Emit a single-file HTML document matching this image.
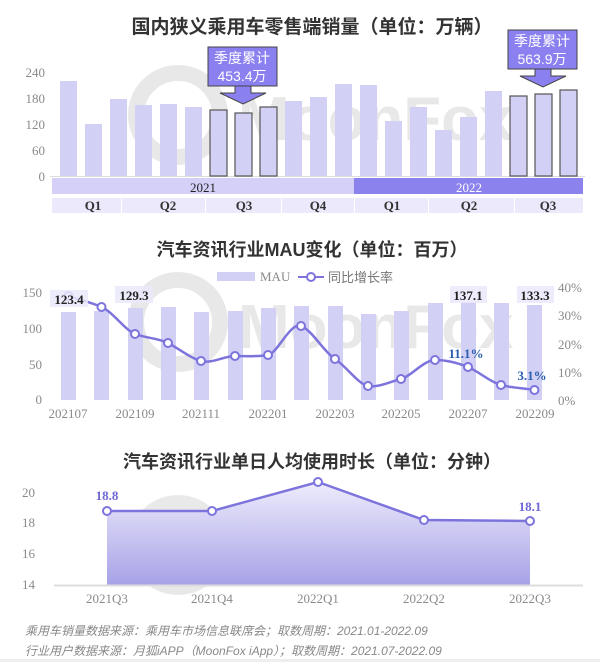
<!DOCTYPE html>
<html><head><meta charset="utf-8"><style>
html,body{margin:0;padding:0;background:#fff;}
svg{display:block;}
.t{font-family:"Liberation Sans","Noto Sans CJK SC",sans-serif;font-weight:bold;fill:#333;}
.ax{font-family:"Liberation Serif","Noto Serif CJK SC",serif;fill:#8a8a8a;font-size:13px;}
.bx{font-family:"Liberation Serif","Noto Serif CJK SC",serif;font-size:13px;}
</style></head><body>
<svg width="600" height="662" viewBox="0 0 600 662" xmlns="http://www.w3.org/2000/svg">
<g opacity="0.13" fill="#555">
<circle cx="178" cy="115" r="42" fill="none" stroke="#555" stroke-width="16"/>
<text x="238" y="140" font-family="Liberation Sans,sans-serif" font-weight="bold" font-size="62">MoonFox</text>
<circle cx="178" cy="322" r="42" fill="none" stroke="#555" stroke-width="16"/>
<text x="238" y="348" font-family="Liberation Sans,sans-serif" font-weight="bold" font-size="62">MoonFox</text>
<circle cx="178" cy="545" r="42" fill="none" stroke="#555" stroke-width="16"/>
<text x="238" y="570" font-family="Liberation Sans,sans-serif" font-weight="bold" font-size="62">MoonFox</text>
</g>

<text class="t" x="312" y="33" font-size="19" text-anchor="middle">国内狭义乘用车零售端销量（单位：万辆）</text>
<g class="ax" text-anchor="end">
<text x="45" y="77">240</text><text x="45" y="103">180</text><text x="45" y="129">120</text><text x="45" y="155">60</text><text x="45" y="181">0</text>
</g>
<line x1="50" y1="176.5" x2="585" y2="176.5" stroke="#ddd"/>
<g fill="#d3d0f5">
<rect x="60" y="81" width="17" height="95"/>
<rect x="85" y="124" width="17" height="52"/>
<rect x="110" y="99" width="17" height="77"/>
<rect x="135" y="105" width="17" height="71"/>
<rect x="160" y="104" width="17" height="72"/>
<rect x="185" y="107" width="17" height="69"/>
<rect x="285" y="101" width="17" height="75"/>
<rect x="310" y="97" width="17" height="79"/>
<rect x="335" y="84" width="17" height="92"/>
<rect x="360" y="85" width="17" height="91"/>
<rect x="385" y="121" width="17" height="55"/>
<rect x="410" y="107" width="17" height="69"/>
<rect x="435" y="130" width="17" height="46"/>
<rect x="460" y="117" width="17" height="59"/>
<rect x="485" y="91" width="17" height="85"/>
</g>
<g fill="#d3d0f5" stroke="#555" stroke-width="1.2">
<rect x="210" y="110" width="17" height="66"/>
<rect x="235" y="113" width="17" height="63"/>
<rect x="260" y="107" width="17" height="69"/>
<rect x="510" y="96" width="17" height="80"/>
<rect x="535" y="94" width="17" height="82"/>
<rect x="560" y="90" width="17" height="86"/>
</g>
<rect x="52" y="178" width="302" height="16" fill="#d4d0f8"/>
<rect x="354" y="178" width="229" height="16" fill="#8b82ee"/>
<text x="203" y="192" class="bx" font-size="15" text-anchor="middle" fill="#222">2021</text>
<text x="469" y="192" class="bx" font-size="15" text-anchor="middle" fill="#fff">2022</text>
<g fill="#ebe9fb">
<rect x="52" y="198" width="69" height="15"/><rect x="122" y="198" width="83" height="15"/><rect x="206" y="198" width="75" height="15"/><rect x="282" y="198" width="72" height="15"/><rect x="355" y="198" width="73" height="15"/><rect x="429" y="198" width="85" height="15"/><rect x="515" y="198" width="68" height="15"/>
</g>
<g class="bx" font-size="11" font-weight="bold" fill="#333" text-anchor="middle">
<text x="93" y="210">Q1</text><text x="168" y="210">Q2</text><text x="244" y="210">Q3</text><text x="318" y="210">Q4</text><text x="392" y="210">Q1</text><text x="469" y="210">Q2</text><text x="548" y="210">Q3</text>
</g>
<g fill="#8b80f0" stroke="#444" stroke-width="1">
<rect x="208" y="47" width="69" height="39"/>
<path d="M235 86 V93 H220 L243 104 L266 93 H251 V86 Z"/>
<rect x="508" y="30" width="69" height="39"/>
<path d="M535 69 V76 H520 L543 87 L566 76 H551 V69 Z"/>
</g>
<g font-family="Liberation Sans,'Noto Sans CJK SC',sans-serif" font-size="14" fill="#fff" text-anchor="middle">
<text x="242" y="63">季度累计</text><text x="242" y="81">453.4万</text>
<text x="542" y="46">季度累计</text><text x="542" y="64">563.9万</text>
</g>

<text class="t" x="312" y="256" font-size="18" text-anchor="middle">汽车资讯行业MAU变化（单位：百万）</text>
<rect x="217" y="272" width="38" height="9" fill="#d3d0f5"/>
<text x="260" y="281" class="ax" font-size="12" fill="#777">MAU</text>
<line x1="298" y1="277" x2="324" y2="277" stroke="#7c74dc" stroke-width="2"/>
<circle cx="311" cy="277" r="4" fill="#fff" stroke="#7c74dc" stroke-width="2"/>
<text x="328" y="282" font-family="Liberation Sans,'Noto Sans CJK SC',sans-serif" font-size="13" fill="#777">同比增长率</text>
<g class="ax" text-anchor="end">
<text x="42" y="297">150</text><text x="42" y="333">100</text><text x="42" y="369">50</text><text x="42" y="404">0</text>
</g>
<g class="ax" text-anchor="start">
<text x="558" y="292">40%</text><text x="558" y="320">30%</text><text x="558" y="349">20%</text><text x="558" y="377">10%</text><text x="558" y="405">0%</text>
</g>
<g fill="#d3d0f5">
<rect x="61" y="312" width="15" height="88"/>
<rect x="94" y="311" width="15" height="89"/>
<rect x="128" y="308" width="15" height="92"/>
<rect x="161" y="307" width="15" height="93"/>
<rect x="194" y="312" width="15" height="88"/>
<rect x="228" y="311" width="15" height="89"/>
<rect x="261" y="308" width="15" height="92"/>
<rect x="294" y="306" width="15" height="94"/>
<rect x="328" y="306" width="15" height="94"/>
<rect x="361" y="314" width="15" height="86"/>
<rect x="394" y="311" width="15" height="89"/>
<rect x="428" y="303" width="15" height="97"/>
<rect x="461" y="302" width="15" height="98"/>
<rect x="494" y="303" width="15" height="97"/>
<rect x="527" y="305" width="15" height="95"/>
</g>
<path d="M68.5 296 C80 300,90 302,101.5 307 S125 330,135 334 S158 338,168 343 S190 358,201 361 S224 356,235 356 S258 357,268 355 S290 322,301 326 S324 352,335 359 S358 384,368 386 S392 381,401 379 S424 360,435 360 S458 363,468 367 S490 382,501 385 S524 388,534.5 390" fill="none" stroke="#7c74dc" stroke-width="2.5"/>
<g fill="#fff" stroke="#7c74dc" stroke-width="2">
<circle cx="68.5" cy="296" r="4"/><circle cx="101.5" cy="307" r="4"/><circle cx="135" cy="334" r="4"/><circle cx="168" cy="343" r="4"/><circle cx="201" cy="361" r="4"/><circle cx="235" cy="356" r="4"/><circle cx="268" cy="355" r="4"/><circle cx="301" cy="326" r="4"/><circle cx="335" cy="359" r="4"/><circle cx="368" cy="386" r="4"/><circle cx="401" cy="379" r="4"/><circle cx="435" cy="360" r="4"/><circle cx="468" cy="367" r="4"/><circle cx="501" cy="385" r="4"/><circle cx="534.5" cy="390" r="4"/>
</g>
<g fill="#ebe9fb" opacity="0.85">
<rect x="50" y="290" width="38" height="17"/><rect x="115" y="286" width="38" height="17"/><rect x="450" y="286" width="37" height="17"/><rect x="517" y="286" width="37" height="17"/>
</g>
<g class="bx" font-weight="bold" fill="#222" text-anchor="middle" font-size="14">
<text x="69" y="304">123.4</text><text x="134" y="300">129.3</text><text x="468" y="300">137.1</text><text x="535" y="300">133.3</text>
</g>
<g class="bx" font-weight="bold" fill="#2a5fb0" text-anchor="middle" font-size="13">
<text x="466" y="358">11.1%</text><text x="532" y="380">3.1%</text>
</g>
<g class="ax" text-anchor="middle">
<text x="68" y="418">202107</text><text x="135" y="418">202109</text><text x="201" y="418">202111</text><text x="268" y="418">202201</text><text x="335" y="418">202203</text><text x="401" y="418">202205</text><text x="468" y="418">202207</text><text x="535" y="418">202209</text>
</g>

<text class="t" x="312" y="468" font-size="18" text-anchor="middle">汽车资讯行业单日人均使用时长（单位：分钟）</text>
<defs><linearGradient id="g" x1="0" y1="0" x2="0" y2="1"><stop offset="0" stop-color="#eeecfd"/><stop offset="1" stop-color="#a7a2e6"/></linearGradient></defs>
<path d="M107 511 L212 511 L318 482 L424 520 L530 521 L530 585 L107 585 Z" fill="url(#g)"/>
<line x1="54" y1="585.5" x2="583" y2="585.5" stroke="#ddd" stroke-width="2"/>
<path d="M107 511 L212 511 L318 482 L424 520 L530 521" fill="none" stroke="#7c74dc" stroke-width="2.5"/>
<g fill="#fff" stroke="#7c74dc" stroke-width="2">
<circle cx="107" cy="511" r="4"/><circle cx="212" cy="511" r="4"/><circle cx="318" cy="482" r="4"/><circle cx="424" cy="520" r="4"/><circle cx="530" cy="521" r="4"/>
</g>
<g class="ax" text-anchor="end">
<text x="35" y="497">20</text><text x="35" y="527">18</text><text x="35" y="558">16</text><text x="35" y="589">14</text>
</g>
<g class="bx" font-weight="bold" fill="#6e68d6" text-anchor="middle" font-size="14">
<text x="107" y="500">18.8</text><text x="530" y="511">18.1</text>
</g>
<g class="ax" text-anchor="middle">
<text x="107" y="603">2021Q3</text><text x="212" y="603">2021Q4</text><text x="318" y="603">2022Q1</text><text x="424" y="603">2022Q2</text><text x="530" y="603">2022Q3</text>
</g>
<g font-family="Liberation Sans,'Noto Sans CJK SC',sans-serif" font-style="italic" font-size="12" fill="#888">
<text x="25" y="635">乘用车销量数据来源：乘用车市场信息联席会；取数周期：2021.01-2022.09</text>
<text x="25" y="655">行业用户数据来源：月狐iAPP（MoonFox iApp）；取数周期：2021.07-2022.09</text>
</g>
<rect x="0" y="659" width="600" height="3" fill="#eee"/>
</svg>
</body></html>
